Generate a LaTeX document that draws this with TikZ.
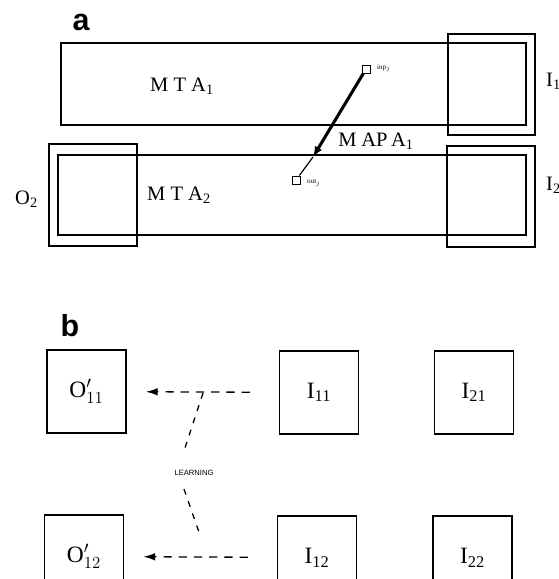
\documentclass[tikz,border=0pt]{standalone}
\usepackage{fontspec}
\setmainfont{Liberation Serif}
\setsansfont{Liberation Sans}
\usetikzlibrary{positioning, arrows.meta}

\begin{document}
\begin{tikzpicture}[
  x=0.03cm, y=-0.03cm,
  frame/.style={draw, line width=1.1pt, inner sep=0pt},
  cell/.style={frame, minimum width=2.37cm, minimum height=2.49cm, font=\fontsize{20}{22}\selectfont},
  lab/.style={font=\fontsize{17.5}{20}\selectfont, inner sep=0pt},
  panel/.style={font=\sffamily\bfseries\fontsize{26}{28}\selectfont, inner sep=0pt},
  tag/.style={font=\fontsize{6}{7}\selectfont, inner sep=0pt, anchor=west},
  pin/.style={draw, line width=0.8pt, minimum size=0.24cm, inner sep=0pt},
  flow/.style={line width=1.1pt, dash pattern=on 7pt off 6pt, -{Latex[length=10pt,width=6.5pt]},
               shorten <=0.87cm, shorten >=0.58cm},
  guide/.style={line width=1.1pt, dash pattern=on 5pt off 6pt},
]
  \useasboundingbox (0,0) rectangle (559,579);

  \node[panel] (pa) at (81,22) {a};
  \node[frame, minimum width=13.95cm, minimum height=2.46cm] (mta1) at (293.5,84) {};
  \node[frame, minimum width=2.61cm, minimum height=3.03cm] (in1) at (491.5,84.5) {};
  \node[frame, minimum width=14.04cm, minimum height=2.4cm] (mta2) at (292,195) {};
  \node[frame, minimum width=2.64cm, minimum height=3.06cm] (out2) at (93,195) {};
  \node[frame, minimum width=2.64cm, minimum height=3.03cm] (in2) at (491,196.5) {};

  \node[lab] at (182,86) {M T A\textsubscript{1}};
  \node[lab] at (179,195) {M T A\textsubscript{2}};
  \node[lab] at (376,141) {M\hspace{4pt}AP\hspace{3pt}A\textsubscript{1}};
  \node[lab, anchor=west] at (546,81) {I\textsubscript{1}};
  \node[lab, anchor=west] at (546,185) {I\textsubscript{2}};
  \node[lab, anchor=east] at (38,199) {O\textsubscript{2}};

  \node[pin] (top) at (366,69) {};
  \node[pin] (bot) at (296,180) {};
  \node[tag] at (377,68) {inp$_j$};
  \node[tag] at (307,183) {out$_j$};
  \coordinate (tip) at (313,157);
  \draw[line width=2.6pt, -{Latex[length=9pt,width=7pt]}] (top) -- (tip);
  \draw[line width=1pt] (tip) -- (bot);

  \node[panel] (pb) at (70,326) {b};
  \node[cell] (o11) at (86.5,391.5) {O$'_{11}$};
  \node[cell] (i11) at (319,392.5) {I\textsubscript{11}};
  \node[cell] (i21) at (474,392.5) {I\textsubscript{21}};
  \node[cell] (o12) at (84,556.5) {O$'_{12}$};
  \node[cell] (i12) at (317,557.5) {I\textsubscript{12}};
  \node[cell] (i22) at (472.5,557.5) {I\textsubscript{22}};

  \draw[flow] (i11) -- (o11);
  \draw[flow] (i12) -- (o12);

  \node[font=\sffamily\fontsize{6.5}{7}\selectfont, inner sep=0pt] (learn) at (194,473) {LEARNING};
  \coordinate (l1) at (203,393);
  \coordinate (l2) at (184,451);
  \coordinate (l3) at (184,489);
  \coordinate (l4) at (200,535);
  \draw[guide] (l1) -- (l2);
  \draw[guide] (l3) -- (l4);
\end{tikzpicture}
\end{document}
